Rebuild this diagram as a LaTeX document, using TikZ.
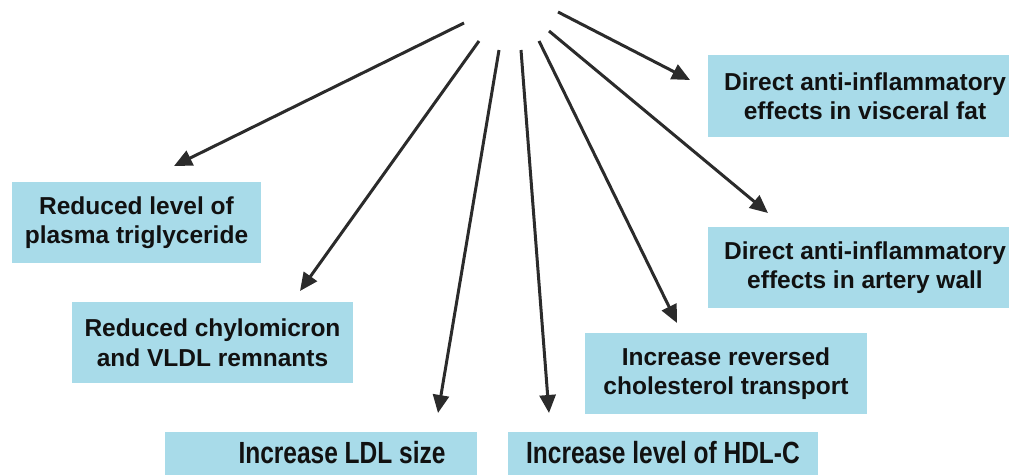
\documentclass[tikz,border=0pt]{standalone}
\usepackage{fontspec}
\usepackage{graphicx}
\setmainfont{Liberation Sans}
\usetikzlibrary{arrows.meta}
\definecolor{boxblue}{HTML}{A8DBE9}
\definecolor{arrowgray}{HTML}{2B2B2B}
\definecolor{textblack}{HTML}{111111}
\tikzset{
  effectbox/.style={fill=boxblue, draw=none, inner sep=0pt, align=center,
    text=textblack, font=\fontsize{24.5}{29.5}\selectfont\bfseries},
  labeltext/.style={inner sep=0pt, text=textblack, font=\fontsize{24.5}{29.5}\selectfont\bfseries},
  effectarrow/.style={draw=arrowgray, line width=3pt,
    -{Triangle[length=18pt,width=16pt]}}
}
\begin{document}
\begin{tikzpicture}[x=1pt,y=-1pt]
\useasboundingbox (0,0) rectangle (1009,474);
\clip (0,0) rectangle (1009,474);

% boxes
\node[effectbox, minimum width=249pt, minimum height=81pt] (trig) at (136.5,222.5)
  {Reduced level of\\plasma triglyceride};
\node[effectbox, minimum width=281pt, minimum height=81pt] (chylo) at (212.5,342.5)
  {Reduced chylomicron\\and VLDL remnants};
\node[effectbox, minimum width=312pt, minimum height=58pt] (ldl) at (321,461) {};
\node[labeltext] (ldltext) at (342,453) {\scalebox{1}[1.25]{Increase LDL size}};
\node[effectbox, minimum width=310pt, minimum height=58pt] (hdl) at (663,461) {};
\node[labeltext] (hdltext) at (663,453) {\scalebox{1}[1.25]{Increase level of HDL-C}};
\node[effectbox, minimum width=282pt, minimum height=81pt] (rev) at (726,373.5)
  {Increase reversed\\cholesterol transport};
\node[effectbox, minimum width=314pt, minimum height=82pt] (visc) at (865,96)
  {Direct anti-inflammatory\\effects in visceral fat};
\node[effectbox, minimum width=314pt, minimum height=81pt] (art) at (865,267.5)
  {Direct anti-inflammatory\\effects in artery wall};

% arrow ends
\coordinate (s1) at (464,23);   \coordinate (t1) at (174,166);
\coordinate (s2) at (479,41);   \coordinate (t2) at (300,291);
\coordinate (s3) at (499,50);   \coordinate (t3) at (438,413);
\coordinate (s4) at (521,50);   \coordinate (t4) at (549,413);
\coordinate (s5) at (539,41);   \coordinate (t5) at (677,323);
\coordinate (s6) at (549,31);   \coordinate (t6) at (768,213);
\coordinate (s7) at (558,12);   \coordinate (t7) at (690,80);

\draw[effectarrow] (s1) -- (t1);
\draw[effectarrow] (s2) -- (t2);
\draw[effectarrow] (s3) -- (t3);
\draw[effectarrow] (s4) -- (t4);
\draw[effectarrow] (s5) -- (t5);
\draw[effectarrow] (s6) -- (t6);
\draw[effectarrow] (s7) -- (t7);
\end{tikzpicture}
\end{document}
